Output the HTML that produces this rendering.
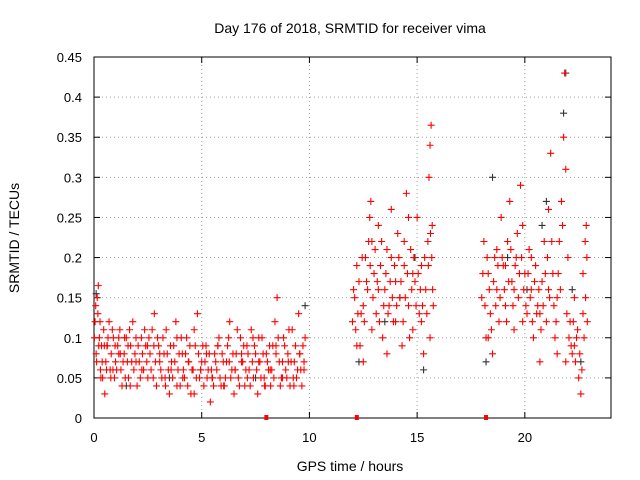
<!DOCTYPE html>
<html><head><meta charset="utf-8"><style>
html,body{margin:0;padding:0;background:#fff;}
svg{display:block;font-family:"Liberation Sans",sans-serif;}
</style></head><body>
<svg id="c" width="640" height="480"></svg>
<script>
const xTicks=[0,5,10,15,20];
const yTicks=[0,0.05,0.1,0.15,0.2,0.25,0.3,0.35,0.4,0.45];
const yTickLabels=["0","0.05","0.1","0.15","0.2","0.25","0.3","0.35","0.4","0.45"];
const redT=[0.05,0.1,0.15,0.2,0.25,0.3,0.35,0.4,0.45,0.5,0.55,0.6,0.7,0.75,0.8,0.9,0.95,1.0,1.1,1.2,1.25,1.3,1.4,1.5,1.55,1.6,1.7,1.8,1.85,1.9,2.0,2.1,2.2,2.3,2.4,2.5,2.6,2.7,2.8,2.85,2.9,3.0,3.1,3.2,3.3,3.4,3.5,3.6,3.7,3.8,3.9,4.0,4.1,4.2,4.3,4.4,4.5,4.6,4.7,4.8,4.9,5.0,5.1,5.2,5.3,5.4,5.5,5.6,5.7,5.8,5.9,6.0,6.1,6.2,6.3,6.4,6.5,6.6,6.7,6.8,6.9,7.0,7.1,7.2,7.3,7.4,7.5,7.6,7.7,7.8,7.9,8.0,8.1,8.2,8.3,8.4,8.5,8.6,8.7,8.8,8.9,9.0,9.1,9.2,9.3,9.4,9.5,9.6,9.7,
0.12,0.32,0.62,0.88,1.15,1.42,1.68,1.95,2.22,2.48,2.75,3.05,3.32,3.58,3.85,4.12,4.38,4.65,4.95,5.22,5.48,5.75,6.02,6.28,6.55,6.85,7.12,7.38,7.65,7.92,8.18,8.45,8.75,9.02,9.28,9.55,9.75,
12.0,12.1,12.2,12.3,12.4,12.5,12.6,12.7,12.8,12.85,12.9,13.0,13.1,13.2,13.3,13.4,13.5,13.6,13.7,13.8,13.9,14.0,14.1,14.2,14.3,14.4,14.5,14.6,14.7,14.8,14.9,15.0,15.1,15.2,15.3,15.4,15.5,15.55,15.6,15.65,15.7,15.75,
12.2,12.5,12.9,13.2,13.6,14.0,14.4,14.8,15.2,15.6,13.8,14.6,
18.0,18.1,18.2,18.3,18.4,18.5,18.6,18.7,18.8,18.9,19.0,19.1,19.2,19.3,19.4,19.5,19.6,19.7,19.8,19.9,20.0,20.1,20.2,20.3,20.4,20.5,20.6,20.7,20.8,20.9,21.0,21.1,21.2,21.3,21.4,21.5,21.6,21.7,21.8,21.85,21.9,22.0,22.1,22.2,22.3,22.4,22.5,22.6,22.7,22.8,22.85,22.9,
18.3,18.7,19.1,19.5,19.9,20.3,20.7,21.1,21.5,21.9,22.3,22.7];
const redV=[0.12,0.08,0.15,0.165,0.1,0.06,0.09,0.05,0.11,0.03,0.07,0.09,0.12,0.06,0.08,0.1,0.05,0.07,0.09,0.11,0.06,0.04,0.08,0.1,0.07,0.05,0.09,0.12,0.06,0.08,0.04,0.07,0.1,0.06,0.09,0.05,0.08,0.11,0.13,0.07,0.04,0.09,0.06,0.1,0.05,0.08,0.03,0.07,0.09,0.12,0.06,0.04,0.08,0.05,0.1,0.07,0.03,0.06,0.09,0.13,0.05,0.07,0.04,0.09,0.06,0.02,0.05,0.08,0.06,0.1,0.04,0.07,0.05,0.09,0.12,0.06,0.03,0.08,0.05,0.1,0.07,0.04,0.09,0.06,0.11,0.05,0.08,0.03,0.07,0.1,0.05,0.08,0.06,0.04,0.09,0.12,0.15,0.07,0.05,0.1,0.06,0.08,0.04,0.11,0.07,0.05,0.13,0.06,0.09,
0.07,0.05,0.09,0.06,0.08,0.1,0.04,0.07,0.06,0.09,0.05,0.08,0.04,0.06,0.1,0.05,0.07,0.03,0.06,0.08,0.05,0.09,0.04,0.07,0.06,0.08,0.05,0.1,0.07,0.04,0.06,0.09,0.05,0.07,0.04,0.08,0.06,
0.12,0.15,0.09,0.17,0.13,0.07,0.2,0.16,0.25,0.27,0.22,0.18,0.13,0.24,0.19,0.1,0.16,0.21,0.14,0.2,0.12,0.17,0.23,0.15,0.09,0.19,0.28,0.14,0.21,0.11,0.17,0.25,0.13,0.19,0.08,0.16,0.22,0.3,0.34,0.365,0.24,0.14,
0.19,0.14,0.11,0.16,0.08,0.12,0.22,0.18,0.12,0.1,0.26,0.25,
0.15,0.22,0.1,0.18,0.13,0.08,0.2,0.16,0.12,0.25,0.19,0.14,0.22,0.27,0.17,0.11,0.2,0.15,0.29,0.24,0.18,0.13,0.21,0.16,0.1,0.19,0.14,0.07,0.17,0.22,0.12,0.26,0.33,0.18,0.1,0.15,0.22,0.27,0.35,0.43,0.31,0.2,0.12,0.08,0.15,0.1,0.05,0.03,0.13,0.22,0.24,0.12,
0.1,0.21,0.19,0.16,0.12,0.2,0.13,0.16,0.08,0.07,0.09,0.18];
const redT2=[0.02,0.08,0.18,0.22,0.28,0.38,0.48,0.58,0.65,0.78,0.85,0.98,1.05,1.15,1.22,1.35,1.45,1.58,1.65,1.75,1.95,2.05,2.15,2.25,2.35,2.45,2.55,2.65,2.78,2.95,3.05,3.15,3.25,3.35,3.45,3.55,3.65,3.75,3.85,3.95,4.05,4.15,4.25,4.35,4.45,4.55,4.65,4.75,4.85,4.95,5.05,5.15,5.25,5.35,5.45,5.55,5.65,5.75,5.85,5.95,6.05,6.15,6.25,6.35,6.45,6.55,6.65,6.75,6.85,6.95,7.05,7.15,7.25,7.35,7.45,7.55,7.65,7.75,7.85,7.95,8.05,8.15,8.25,8.35,8.45,8.55,8.65,8.75,8.85,8.95,9.05,9.15,9.25,9.35,9.45,9.55,9.65,9.75,9.8,
12.05,12.15,12.25,12.35,12.45,12.55,12.65,12.75,12.82,12.95,13.05,13.15,13.25,13.35,13.45,13.55,13.65,13.75,13.85,13.95,14.05,14.15,14.25,14.35,14.45,14.55,14.65,14.75,14.85,14.95,15.05,15.15,15.25,15.35,15.45,15.52,15.62,15.68,15.72,
18.05,18.15,18.25,18.35,18.45,18.55,18.65,18.75,18.85,18.95,19.05,19.15,19.25,19.35,19.45,19.55,19.65,19.75,19.85,19.95,20.05,20.15,20.25,20.35,20.45,20.55,20.65,20.75,20.85,20.95,21.05,21.15,21.25,21.35,21.45,21.55,21.65,21.75,21.95,22.05,22.15,22.25,22.35,22.45,22.55,22.65,22.75,22.82,22.88];
const redV2=[0.1,0.14,0.13,0.09,0.12,0.07,0.09,0.06,0.1,0.05,0.11,0.09,0.06,0.1,0.08,0.07,0.05,0.09,0.11,0.07,0.1,0.09,0.05,0.08,0.11,0.07,0.1,0.06,0.09,0.1,0.07,0.05,0.08,0.11,0.06,0.09,0.05,0.07,0.04,0.08,0.1,0.06,0.08,0.04,0.09,0.06,0.11,0.05,0.08,0.06,0.09,0.07,0.05,0.08,0.06,0.04,0.07,0.09,0.05,0.08,0.04,0.07,0.1,0.05,0.08,0.06,0.11,0.04,0.07,0.09,0.06,0.08,0.04,0.07,0.09,0.06,0.1,0.05,0.08,0.04,0.07,0.09,0.06,0.05,0.08,0.1,0.04,0.07,0.09,0.05,0.11,0.07,0.05,0.09,0.06,0.08,0.04,0.07,0.1,
0.16,0.11,0.13,0.09,0.2,0.12,0.17,0.22,0.19,0.15,0.21,0.17,0.12,0.22,0.14,0.18,0.13,0.17,0.15,0.19,0.14,0.2,0.17,0.12,0.15,0.18,0.1,0.16,0.2,0.14,0.18,0.16,0.14,0.2,0.13,0.19,0.23,0.2,0.16,
0.18,0.14,0.2,0.16,0.11,0.17,0.14,0.19,0.15,0.2,0.16,0.12,0.17,0.21,0.14,0.19,0.23,0.18,0.2,0.16,0.14,0.18,0.15,0.12,0.17,0.13,0.16,0.11,0.14,0.18,0.2,0.15,0.22,0.14,0.12,0.18,0.16,0.24,0.13,0.1,0.09,0.12,0.07,0.11,0.08,0.06,0.1,0.15,0.2];
const blackT=[0.1,1.5,3.5,7.5,9.8,12.3,13.5,14.2,15.3,18.5,19.2,20.1,20.8,21.0,21.8,21.9,22.2,22.6,18.2,14.9];
const blackV=[0.155,0.04,0.05,0.05,0.14,0.07,0.12,0.15,0.06,0.3,0.2,0.16,0.24,0.27,0.38,0.43,0.16,0.07,0.07,0.2];
const gapT=[8.0,12.2,18.2];

const NS="http://www.w3.org/2000/svg";
const svg=document.getElementById('c');
const L=94,R=611,T=57,B=418,XMAX=24,YMAX=0.45;
const sx=t=>L+t/XMAX*(R-L), sy=v=>B-v/YMAX*(B-T);
function mk(tag,a,parent){const e=document.createElementNS(NS,tag);for(const k in a)e.setAttribute(k,a[k]);(parent||svg).appendChild(e);return e;}

yTicks.forEach((v,i)=>{
  const y=sy(v);
  if(i>0&&i<yTicks.length-1){const g=mk('line',{x1:L,x2:R,y1:y,y2:y,stroke:'#a0a0a0','stroke-dasharray':'1,3'});
  
  }
  mk('line',{x1:L,x2:L+6,y1:y,y2:y,stroke:'#000'});
  mk('line',{x1:R,x2:R-6,y1:y,y2:y,stroke:'#000'});
  const tx=mk('text',{x:82,y:y+5,'text-anchor':'end','font-size':13});
  tx.textContent=yTickLabels[i];
  
  
});
xTicks.forEach(t=>{
  const x=sx(t);
  if(t>0){const g=mk('line',{x1:x,x2:x,y1:T,y2:B,stroke:'#a0a0a0','stroke-dasharray':'1,3'});
  
  }
  mk('line',{x1:x,x2:x,y1:B,y2:B-6,stroke:'#000'});
  mk('line',{x1:x,x2:x,y1:T,y2:T+6,stroke:'#000'});
  const tx=mk('text',{x:x,y:442,'text-anchor':'middle','font-size':13});
  tx.textContent=String(t);
  
  
});
const frame=mk('rect',{x:L,y:T,width:R-L,height:B-T,fill:'none',stroke:'#000'});



function plus(t,v,col,name){
  const x=sx(t),y=sy(v);
  const p=mk('path',{d:`M${x-3.5},${y}h7M${x},${y-3.5}v7`,stroke:col,'stroke-width':1.1});
  
  
}
blackT.forEach((t,i)=>plus(t,blackV[i],'#333','black-point'));
redT.forEach((t,i)=>plus(t,redV[i],'#ff0000','red-point'));
redT2.forEach((t,i)=>plus(t,redV2[i],'#ff0000','red-point'));
gapT.forEach(t=>{
  const r=mk('rect',{x:sx(t)-2,y:B-3,width:4,height:5,fill:'#ff0000'});
  
  
});

const title=mk('text',{x:350,y:33,'text-anchor':'middle','font-size':14});
title.textContent='Day 176 of 2018, SRMTID for receiver vima';


const xl=mk('text',{x:350,y:471,'text-anchor':'middle','font-size':14});
xl.textContent='GPS time / hours';


const yl=mk('text',{x:0,y:0,'text-anchor':'middle','font-size':14,transform:'translate(19,238) rotate(-90)'});
yl.textContent='SRMTID / TECUs';


</script>
</body></html>
